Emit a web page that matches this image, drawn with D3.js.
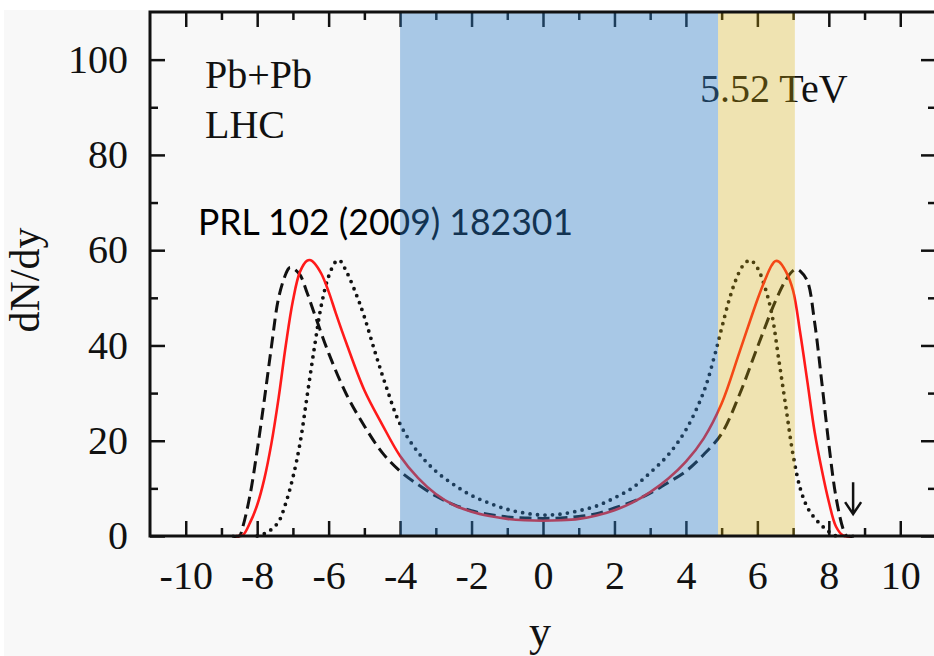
<!DOCTYPE html>
<html>
<head>
<meta charset="utf-8">
<script src="https://cdn.jsdelivr.net/npm/d3@7/dist/d3.min.js"></script>
<style>
  html, body { margin: 0; padding: 0; background: #ffffff; }
  svg { display: block; }
</style>
</head>
<body>
<svg id="chart" width="934" height="656"></svg>
<script>
// Axis ticks
const xMajorTicks = [-10, -8, -6, -4, -2, 0, 2, 4, 6, 8, 10];
const xMinorTicks = [-9, -7, -5, -3, -1, 1, 3, 5, 7, 9];
const yMajorTicks = [0, 20, 40, 60, 80, 100];
const yMinorTicks = [10, 30, 50, 70, 90];

// Solid red curve: rapidity and dN/dy
const solidRap = [-8.6, -8.4, -8.2, -8.0, -7.8, -7.6, -7.4, -7.2, -7.0, -6.8, -6.6, -6.5, -6.4, -6.2, -6.0, -5.8, -5.5, -5.0, -4.5, -4.0, -3.5, -3.0, -2.5, -2.0, -1.5, -1.0, -0.5, 0,
                  0.5, 1.0, 1.5, 2.0, 2.5, 3.0, 3.5, 4.0, 4.5, 5.0, 5.5, 6.0, 6.2, 6.4, 6.5, 6.6, 6.8, 7.0, 7.2, 7.4, 7.6, 7.8, 8.0, 8.2, 8.4, 8.6];
const solidVal = [0, 0.2, 2.8, 6.5, 12, 19.5, 29, 40, 49.4, 55.5, 57.8, 57.9, 57.3, 55, 51.3, 46.8, 40.4, 30.6, 23.4, 16.8, 12.2, 8.8, 6.5, 5.1, 4.2, 3.6, 3.3, 3.2,
                  3.3, 3.6, 4.3, 5.4, 7.0, 9.2, 12.0, 15.6, 20.5, 27.8, 38.6, 49.6, 53.5, 56.8, 57.7, 57.6, 55.5, 51.5, 42.6, 32.4, 22, 14, 7.2, 2.0, 0.1, 0];

// Dashed black curve
const dashRap = [-8.7, -8.5, -8.4, -8.2, -8.0, -7.8, -7.6, -7.4, -7.2, -7.1, -7.0, -6.8, -6.6, -6.4, -6.0, -5.5, -5.0, -4.5, -4.0, -3.5, -3.0, -2.5, -2.0, -1.5, -1.0, -0.5, 0,
                 0.5, 1.0, 1.5, 2.0, 2.5, 3.0, 3.5, 4.0, 4.5, 5.0, 5.5, 6.0, 6.5, 6.8, 7.0, 7.1, 7.2, 7.4, 7.6, 7.8, 8.0, 8.2, 8.4, 8.5, 8.7];
const dashVal = [0, 0, 2, 8.6, 18, 28.6, 39.8, 50, 55, 56.3, 56.2, 54.8, 51, 46.7, 38.4, 29.7, 23.1, 17.5, 13.6, 10.8, 8.4, 6.6, 5.3, 4.5, 4.0, 3.8, 3.7,
                 3.8, 4.1, 4.7, 5.9, 7.2, 9.0, 11.2, 13.6, 17.1, 21.5, 29.7, 39.6, 49.2, 53.8, 55.7, 56, 55.6, 53.5, 45, 32.5, 19.3, 8.2, 1.5, 0, 0];

// Dotted black curve
const dotRap = [-8.0, -7.8, -7.6, -7.4, -7.2, -7.0, -6.8, -6.6, -6.4, -6.2, -6.0, -5.8, -5.7, -5.5, -5.2, -5.0, -4.7, -4.4, -4.0, -3.5, -3.0, -2.5, -2.0, -1.5, -1.0, -0.5, 0,
                0.5, 1.0, 1.5, 2.0, 2.5, 3.0, 3.5, 4.0, 4.5, 4.8, 5.0, 5.2, 5.4, 5.6, 5.8, 6.0, 6.2, 6.4, 6.6, 6.8, 7.0, 7.2, 7.4, 7.6, 7.8, 8.0, 8.2];
const dotVal = [0, 0.5, 1.4, 3.0, 6.9, 12.3, 19.5, 29.5, 39.5, 48.6, 54.5, 57.6, 57.9, 55.5, 50.2, 46, 38.6, 31.6, 23.5, 17.6, 13.6, 10.8, 8.5, 6.9, 5.6, 4.8, 4.4,
                4.6, 5.3, 6.3, 8.0, 10.1, 13.3, 17.0, 22.3, 30.3, 37.8, 43.6, 49.3, 53.8, 56.8, 57.9, 56.3, 52.5, 46.8, 37, 27, 17, 10, 6, 3.8, 2.2, 0.9, 0];

// Shaded rapidity windows
const blueBand = [-4, 4.9];
const goldBand = [4.9, 7.05];

// Beam rapidity marker
const beamRap = 8.68;
const beamArrow = [11.3, 4.6];

const svg = d3.select("#chart");
const W = 934, H = 656;
const x = d3.scaleLinear().domain([-11, 11]).range([150, 936]);
const y = d3.scaleLinear().domain([0, 110]).range([536, 12]);

const serif = "'Liberation Serif', 'Times New Roman', serif";
const ink = "#111";

// page background
svg.append("rect").attr("width", W).attr("height", H).attr("fill", "#ffffff");
svg.append("rect").attr("x", 4).attr("y", 10).attr("width", W - 4).attr("height", H - 10).attr("fill", "#f8f8f8");

// tick marks on all four sides (pointing inward)
function tickAxis(axisFn, values, size, transform) {
  const g = svg.append("g").attr("transform", transform)
    .call(axisFn.tickValues(values).tickSizeInner(-size).tickSizeOuter(0).tickFormat(""));
  g.select(".domain").remove();
  g.selectAll(".tick line").attr("stroke", ink).attr("stroke-width", 2.5);
  g.selectAll(".tick text").remove();
  return g;
}
tickAxis(d3.axisBottom(x), xMajorTicks, 15, `translate(0,${y(0)})`);
tickAxis(d3.axisBottom(x), xMinorTicks, 8, `translate(0,${y(0)})`);
tickAxis(d3.axisTop(x), xMajorTicks, 15, `translate(0,${y(110)})`);
tickAxis(d3.axisTop(x), xMinorTicks, 8, `translate(0,${y(110)})`);
tickAxis(d3.axisLeft(y), yMajorTicks, 15, `translate(${x(-11)},0)`);
tickAxis(d3.axisLeft(y), yMinorTicks, 8, `translate(${x(-11)},0)`);
tickAxis(d3.axisRight(y), yMajorTicks, 15, `translate(${x(11)},0)`);
tickAxis(d3.axisRight(y), yMinorTicks, 8, `translate(${x(11)},0)`);

// curves (smooth spline through the sampled values, never below zero)
const line = d3.line().x(d => x(d[0])).y(d => Math.min(y(d[1]), y(0)))
  .curve(d3.curveCatmullRom.alpha(0.5));
const plot = svg.append("g");
plot.append("path").datum(d3.zip(dashRap, dashVal)).attr("d", line)
  .attr("fill", "none").attr("stroke", ink).attr("stroke-width", 3)
  .attr("stroke-dasharray", "12 6");
plot.append("path").datum(d3.zip(dotRap, dotVal)).attr("d", line)
  .attr("fill", "none").attr("stroke", ink).attr("stroke-width", 3.8)
  .attr("stroke-linecap", "round").attr("stroke-dasharray", "0 7.5");
plot.append("path").datum(d3.zip(solidRap, solidVal)).attr("d", line)
  .attr("fill", "none").attr("stroke", "#ff1a1a").attr("stroke-width", 2.6);

// labels inside the frame
svg.append("text").attr("x", 205).attr("y", 88).attr("font-family", serif)
  .attr("font-size", 40).attr("fill", ink).text("Pb+Pb");
svg.append("text").attr("x", 205).attr("y", 138).attr("font-family", serif)
  .attr("font-size", 40).attr("fill", ink).text("LHC");
svg.append("text").attr("x", 700).attr("y", 102).attr("font-family", serif)
  .attr("font-size", 40).attr("fill", ink).text("5.52 TeV");
svg.append("text").attr("x", 198).attr("y", 235)
  .attr("font-family", "Lato, 'Open Sans', sans-serif").attr("font-size", 37)
  .attr("textLength", 375).attr("lengthAdjust", "spacingAndGlyphs")
  .attr("fill", "#000").text("PRL 102 (2009) 182301");

// beam rapidity arrow
const ax = x(beamRap), ay0 = y(beamArrow[0]), ay1 = y(beamArrow[1]);
svg.append("path")
  .attr("d", `M${ax},${ay0}L${ax},${ay1}M${ax - 8},${ay1 - 12}L${ax},${ay1}L${ax + 8},${ay1 - 12}`)
  .attr("fill", "none").attr("stroke", ink).attr("stroke-width", 2.5);

// translucent rapidity windows laid over the curves
svg.append("rect").attr("x", x(blueBand[0])).attr("y", y(110))
  .attr("width", x(blueBand[1]) - x(blueBand[0])).attr("height", y(0) - y(110))
  .attr("fill", "rgb(48,128,203)").attr("fill-opacity", 0.4);
svg.append("rect").attr("x", x(goldBand[0])).attr("y", y(110))
  .attr("width", x(goldBand[1]) - x(goldBand[0])).attr("height", y(0) - y(110))
  .attr("fill", "rgb(218,178,14)").attr("fill-opacity", 0.3);

// frame
svg.append("rect").attr("x", x(-11)).attr("y", y(110))
  .attr("width", x(11) - x(-11)).attr("height", y(0) - y(110))
  .attr("fill", "none").attr("stroke", ink).attr("stroke-width", 3);

// tick labels (plain hyphen for negatives)
const xl = svg.append("g").attr("transform", `translate(0,${y(0)})`)
  .call(d3.axisBottom(x).tickValues(xMajorTicks).tickSize(0).tickPadding(25)
    .tickFormat(d => String(d)));
xl.select(".domain").remove();
xl.selectAll("text").attr("font-family", serif).attr("font-size", 40).attr("fill", ink);

const yl = svg.append("g").attr("transform", `translate(${x(-11)},0)`)
  .call(d3.axisLeft(y).tickValues(yMajorTicks).tickSize(0).tickPadding(22)
    .tickFormat(d => String(d)));
yl.select(".domain").remove();
yl.selectAll("text").attr("font-family", serif).attr("font-size", 40).attr("fill", ink);

// axis titles
svg.append("text").attr("x", 540).attr("y", 646).attr("text-anchor", "middle")
  .attr("font-family", serif).attr("font-size", 44).attr("fill", ink).text("y");
svg.append("text").attr("transform", "translate(39,280) rotate(-90)")
  .attr("text-anchor", "middle").attr("font-family", serif).attr("font-size", 42)
  .attr("fill", ink).text("dN/dy");
</script>
</body>
</html>
